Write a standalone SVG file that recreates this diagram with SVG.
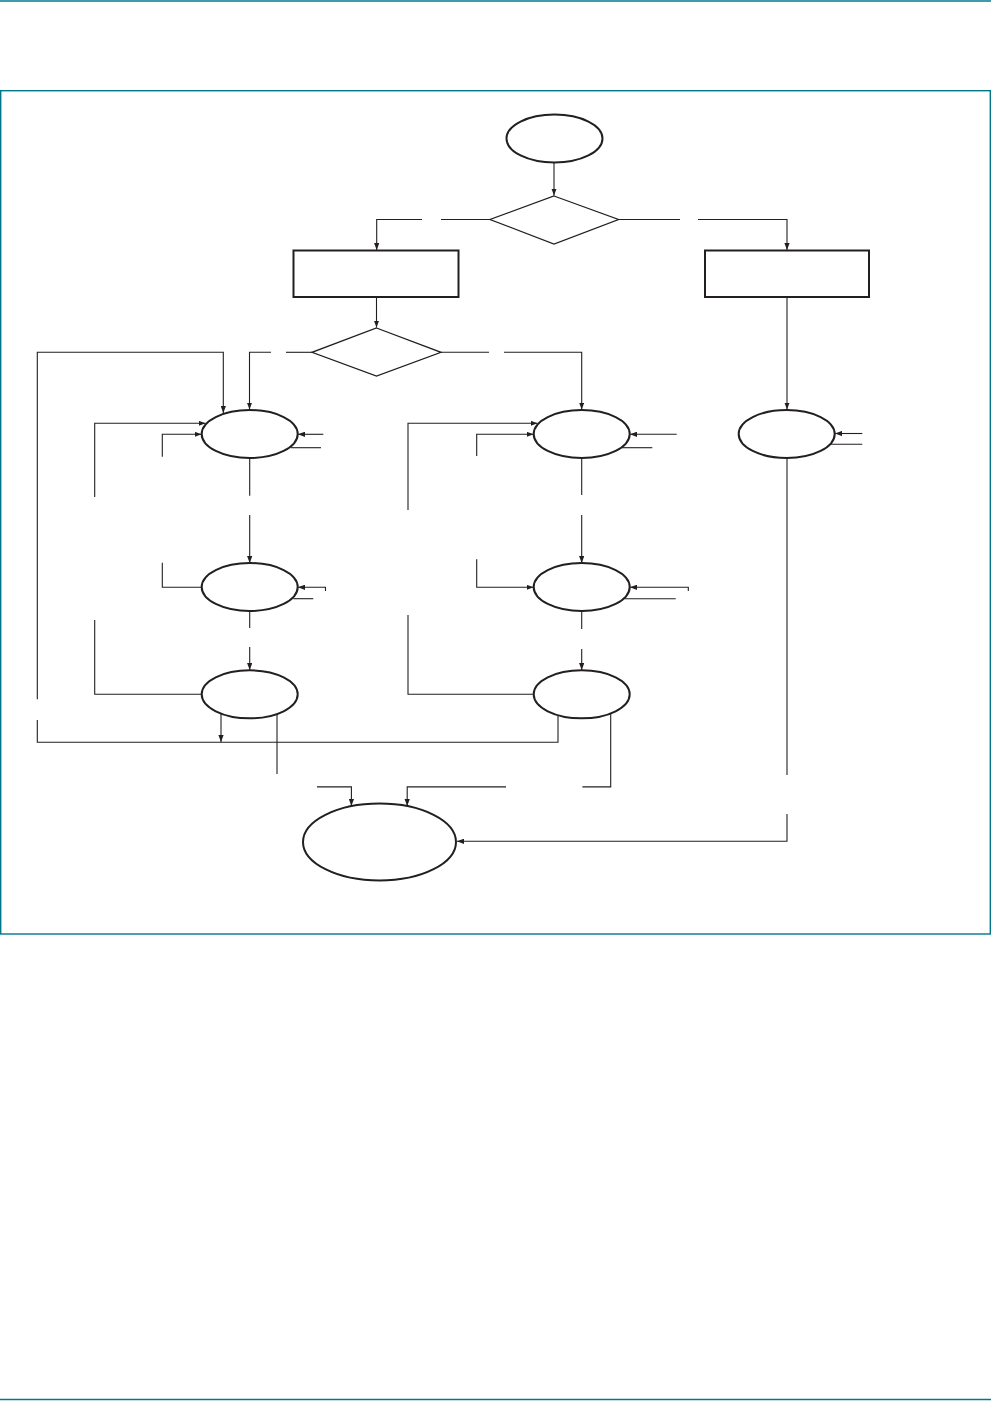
<svg xmlns="http://www.w3.org/2000/svg" width="991" height="1401" viewBox="0 0 991 1401">
<style>
.teal{stroke:#00788a;stroke-width:1.4;fill:none}
.node{fill:#fff;stroke:#231f20;stroke-width:2}
.diam{fill:#fff;stroke:#231f20;stroke-width:1.3}
.c path{fill:none;stroke:#231f20;stroke-width:1.1}
.arr{marker-end:url(#ah)}
</style>
<defs>
<marker id="ah" viewBox="0 0 8 6" refX="8" refY="3" markerWidth="7" markerHeight="5.5" markerUnits="userSpaceOnUse" orient="auto">
<path d="M0,0 L8,3 L0,6 z" fill="#231f20"/>
</marker>
</defs>
<rect width="991" height="1401" fill="#fff"/>
<line class="teal" x1="0" y1="1" x2="991" y2="1"/>
<line class="teal" x1="0" y1="1399.5" x2="991" y2="1399.5"/>
<rect class="teal" x="0.7" y="90.7" width="989.6" height="843.3"/>

<g id="start"><ellipse class="node" cx="554.5" cy="138.5" rx="48" ry="24"/></g>
<g id="decision1"><polygon class="diam" points="554,196 618.5,219.5 554,244 490,219.5"/></g>
<g id="box-left"><rect class="node" x="293.5" y="250.5" width="165" height="46.5"/></g>
<g id="box-right"><rect class="node" x="705" y="250.5" width="164" height="46.5"/></g>
<g id="decision2"><polygon class="diam" points="376.5,328 441,352.3 376.5,376 312,352.3"/></g>
<g id="L1"><ellipse class="node" cx="249.7" cy="434" rx="48" ry="24"/></g>
<g id="L2"><ellipse class="node" cx="249.7" cy="587" rx="48" ry="24"/></g>
<g id="L3"><ellipse class="node" cx="249.7" cy="694.3" rx="48" ry="24"/></g>
<g id="R1"><ellipse class="node" cx="581.7" cy="434" rx="48" ry="24"/></g>
<g id="R2"><ellipse class="node" cx="581.7" cy="587" rx="48" ry="24"/></g>
<g id="R3"><ellipse class="node" cx="581.7" cy="694.3" rx="48" ry="24"/></g>
<g id="RR"><ellipse class="node" cx="786.7" cy="434" rx="48" ry="24"/></g>
<g id="end"><ellipse class="node" cx="379.5" cy="842" rx="76.5" ry="38.5"/></g>

<g id="connectors" class="c">
<path class="arr" d="M554,163 V195.5"/>
<path d="M490,219.5 H441"/>
<path class="arr" d="M422,219.5 H376.7 V250"/>
<path d="M618.5,219.5 H680"/>
<path class="arr" d="M698,219.5 H787 V250"/>
<path class="arr" d="M376.5,297 V327.5"/>
<path d="M312,352.3 H286"/>
<path class="arr" d="M271,352.3 H249.5 V409.5"/>
<path d="M441,352.3 H489"/>
<path class="arr" d="M504,352.3 H581.7 V409.5"/>
<path class="arr" d="M787,297 V409.5"/>
<!-- left column -->
<path class="arr" d="M94.7,497 V423.3 H205.5"/>
<path class="arr" d="M162.3,456.7 V434.3 H201.5"/>
<path class="arr" d="M323.3,434.3 H298"/>
<path d="M291,447.7 H321"/>
<path d="M249.7,458 V495.7"/>
<path class="arr" d="M249.7,515 V563"/>
<path d="M162.3,562.7 V587.3 H201.7"/>
<path class="arr" d="M325.5,591 V587.3 H298"/>
<path d="M293.3,598.7 H313.3"/>
<path d="M249.7,611 V628"/>
<path class="arr" d="M249.7,647 V670"/>
<path d="M94.7,620 V694.3 H202"/>
<path d="M558,715 V742.3 H37.3 V720"/>
<path class="arr" d="M37.3,699.3 V352.3 H223.3 V413"/>
<path class="arr" d="M221,713.5 V742"/>
<path d="M277,714 V774"/>
<path class="arr" d="M317,786.9 H351.4 V806"/>
<!-- right column -->
<path class="arr" d="M408,510 V423.3 H537.5"/>
<path class="arr" d="M476.7,456 V434.3 H533.5"/>
<path class="arr" d="M676.7,434.3 H630"/>
<path d="M621.7,447.7 H652.3"/>
<path d="M581.7,458 V495"/>
<path class="arr" d="M581.7,515 V563"/>
<path class="arr" d="M476.7,559.3 V587.3 H533.5"/>
<path class="arr" d="M688.3,591 V587.3 H630"/>
<path d="M625,598.7 H675.7"/>
<path d="M581.7,611 V629"/>
<path class="arr" d="M581.7,649 V670"/>
<path d="M408,615 V694.3 H533.5"/>
<path d="M610.7,713.5 V786.9 H582.4"/>
<path class="arr" d="M506,786.9 H407.2 V806"/>
<!-- rightmost -->
<path class="arr" d="M862.3,433.5 H835"/>
<path d="M830.7,444.3 H862.3"/>
<path d="M787,458.5 V775"/>
<path class="arr" d="M787,814 V841.3 H457"/>
</g>
</svg>
